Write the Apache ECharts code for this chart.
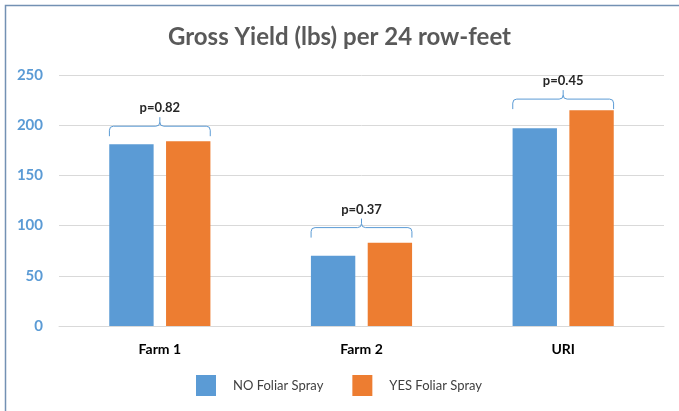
<!DOCTYPE html>
<html>
<head>
<meta charset="utf-8">
<script src="https://cdn.jsdelivr.net/npm/echarts@6/dist/echarts.min.js"></script>
<style>
  html, body { margin: 0; padding: 0; background: #ffffff; }
  #chart { width: 679px; height: 411px; }
</style>
</head>
<body>
<div id="chart"></div>
<script>
// Gross yield per 24 row-feet, with and without foliar spray
const categories = ['Farm 1', 'Farm 2', 'URI'];
const noSpray = [181, 70, 197];
const yesSpray = [184, 83, 215];
// Significance brackets: height of the bracket bar and its p-value
const bracketLevels = [199, 98, 226];
const pValues = ['p=0.82', 'p=0.37', 'p=0.45'];
const yTicks = { min: 0, max: 250, interval: 50 };

const FONT = 'Lato, "Open Sans", sans-serif';
const chart = echarts.init(document.getElementById('chart'), null, { renderer: 'canvas' });

function renderBracket(params, api) {
  const cat = api.value(0);
  const pt = api.coord([cat, api.value(1)]);
  const band = api.size([1, 0])[0];
  const half = band * 0.25;
  const xm = pt[0], y = pt[1];
  const x0 = xm - half, x1 = xm + half;
  const drop = 10, tip = 9, r = 4;
  const d = [
    'M', x0, y + drop, 'L', x0, y + r, 'Q', x0, y, x0 + r, y,
    'L', xm - r, y, 'Q', xm, y, xm, y - r, 'L', xm, y - tip,
    'M', xm, y - r, 'Q', xm, y, xm + r, y,
    'L', x1 - r, y, 'Q', x1, y, x1, y + r, 'L', x1, y + drop
  ].join(' ');
  return {
    type: 'group',
    children: [
      {
        type: 'path',
        shape: { pathData: d },
        style: { fill: 'none', stroke: '#5b9bd5', lineWidth: 1 }
      },
      {
        type: 'text',
        style: {
          x: xm, y: y - 18,
          text: pValues[params.dataIndex],
          font: 'bold 13px ' + FONT,
          fill: '#262626',
          align: 'center', verticalAlign: 'middle'
        }
      }
    ]
  };
}

chart.setOption({
  backgroundColor: '#ffffff',
  animation: false,
  title: {
    text: 'Gross Yield (lbs) per 24 row-feet',
    left: 'center',
    top: 20,
    textStyle: { fontFamily: FONT, fontSize: 24, fontWeight: 'bold', color: '#595959' }
  },
  legend: {
    left: 196,
    top: 375,
    padding: 0,
    icon: 'rect',
    itemWidth: 20,
    itemHeight: 21,
    itemGap: 29,
    textStyle: { fontFamily: FONT, fontSize: 13, color: '#404040', padding: [4, 0, 0, 12] },
    data: ['NO Foliar Spray', 'YES Foliar Spray']
  },
  grid: { left: 59, right: 15, top: 75, bottom: 85, containLabel: false },
  xAxis: {
    type: 'category',
    data: categories,
    axisLine: { show: true, lineStyle: { color: '#d9d9d9', width: 1 } },
    axisTick: { show: false },
    axisLabel: { margin: 16, fontFamily: FONT, fontSize: 14, fontWeight: 'bold', color: '#000000' }
  },
  yAxis: {
    type: 'value',
    min: yTicks.min,
    max: yTicks.max,
    interval: yTicks.interval,
    axisLine: { show: false },
    axisTick: { show: false },
    splitLine: { lineStyle: { color: '#d9d9d9', width: 1 } },
    axisLabel: { margin: 16, fontFamily: FONT, fontSize: 15, fontWeight: 'bold', color: '#5b9bd5' }
  },
  series: [
    {
      name: 'NO Foliar Spray',
      type: 'bar',
      data: noSpray,
      barWidth: '22%',
      barGap: '28%',
      itemStyle: { color: '#5b9bd5' }
    },
    {
      name: 'YES Foliar Spray',
      type: 'bar',
      data: yesSpray,
      barWidth: '22%',
      barGap: '28%',
      itemStyle: { color: '#ed7d31' }
    },
    {
      name: 'brackets',
      type: 'custom',
      renderItem: renderBracket,
      data: bracketLevels.map((v, i) => [i, v]),
      silent: true,
      z: 5
    }
  ],
  graphic: [
    {
      type: 'rect',
      shape: { x: 5.5, y: 5.5, width: 720, height: 450 },
      style: { fill: 'none', stroke: '#7391b3', lineWidth: 1.5 },
      silent: true
    }
  ]
});
</script>
</body>
</html>
